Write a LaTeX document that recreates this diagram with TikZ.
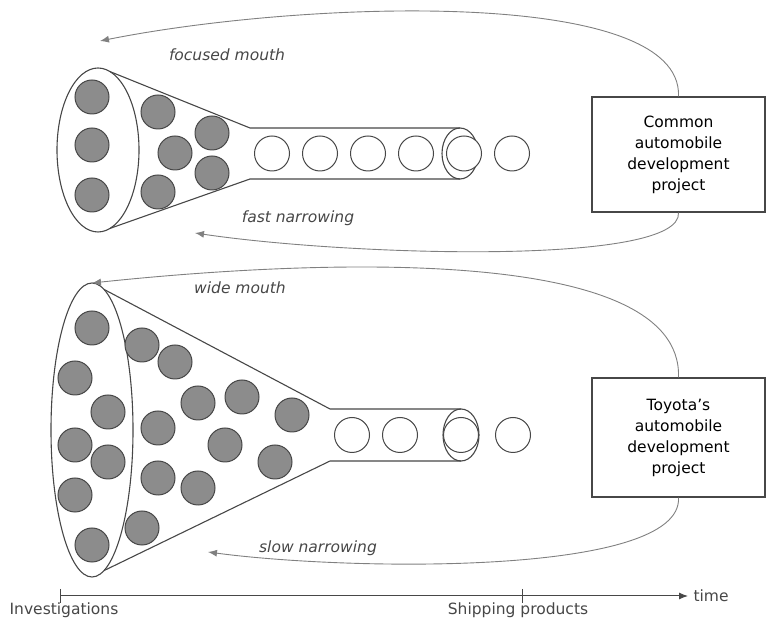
\documentclass[tikz,border=0pt]{standalone}
\usepackage{fontspec}
\setmainfont{DejaVu Sans}
\usepackage{tikz}
\usetikzlibrary{arrows.meta}
\usetikzlibrary{positioning}
\definecolor{linegray}{gray}{0.28}
\definecolor{dotgray}{gray}{0.55}
\definecolor{curvegray}{gray}{0.5}
\tikzset{
  funnel/.style={draw=linegray, line width=1.1pt},
  dot/.style={circle, draw=linegray, line width=1pt, fill=dotgray, minimum size=34pt, inner sep=0pt},
  part/.style={circle, draw=linegray, line width=1pt, fill=white, minimum size=35pt, inner sep=0pt},
  project/.style={draw=linegray, line width=1.1pt, align=center, minimum width=173pt, font=\fontsize{15.5}{21}\selectfont},
  loop/.style={draw=curvegray, line width=0.9pt, -{Latex[length=9pt,width=7pt]}},
  note/.style={font=\fontsize{15.5}{19}\selectfont\itshape, text=linegray},
  axislabel/.style={font=\fontsize{15.5}{19}\selectfont, text=linegray}
}
\begin{document}
\begin{tikzpicture}[x=1pt, y=1pt]
  \useasboundingbox (0,0) rectangle (768,626);

  % Common funnel
  \draw[funnel] (98,476) ellipse [x radius=41, y radius=82];
  \draw[funnel] (110,554.4) -- (250,498) -- (460,498);
  \draw[funnel] (110,397.6) -- (250,447) -- (460,447);
  \draw[funnel] (460,472.5) ellipse [x radius=18, y radius=25.5];

  % Common nodes
  \node[dot] (c1) at (92,529) {};
  \node[dot] (c2) at (92,481) {};
  \node[dot] (c3) at (92,431) {};
  \node[dot] (c4) at (158,514) {};
  \node[dot] (c5) at (175,473) {};
  \node[dot] (c6) at (158,434) {};
  \node[dot] (c7) at (212,493) {};
  \node[dot] (c8) at (212,453) {};
  \node[part] (cp1) at (272,472.5) {};
  \node[part, right=12pt of cp1] (cp2) {};
  \node[part, right=12pt of cp2] (cp3) {};
  \node[part, right=12pt of cp3] (cp4) {};
  \node[part, right=12pt of cp4] (cp5) {};
  \node[part, right=12pt of cp5] (cp6) {};
  \node[project, minimum height=115pt] (common) at (678.5,471.5) {Common\\automobile\\development\\project};

  % Common loops
  \coordinate (ctop) at (100,585);
  \coordinate (cbot) at (195,393);
  \draw[loop] (common.north) .. controls (683,640) and (300,625) .. (ctop);
  \draw[loop] (common.south) .. controls (683,360) and (350,370) .. (cbot);
  \node[note] at (227,571) {focused mouth};
  \node[note] at (298,408) {fast narrowing};

  % Toyota funnel
  \draw[funnel] (92,196) ellipse [x radius=41, y radius=147];
  \draw[funnel] (104,336.6) -- (330,217) -- (461,217);
  \draw[funnel] (104,55.4) -- (330,165) -- (461,165);
  \draw[funnel] (461,191) ellipse [x radius=18, y radius=26];

  % Toyota nodes
  \node[dot] (t1) at (92,298) {};
  \node[dot] (t2) at (75,248) {};
  \node[dot] (t3) at (108,214) {};
  \node[dot] (t4) at (75,181) {};
  \node[dot] (t5) at (108,164) {};
  \node[dot] (t6) at (75,131) {};
  \node[dot] (t7) at (92,81) {};
  \node[dot] (t8) at (142,281) {};
  \node[dot] (t9) at (175,264) {};
  \node[dot] (t10) at (198,223) {};
  \node[dot] (t11) at (242,229) {};
  \node[dot] (t12) at (292,211) {};
  \node[dot] (t13) at (158,198) {};
  \node[dot] (t14) at (225,181) {};
  \node[dot] (t15) at (275,164) {};
  \node[dot] (t16) at (158,148) {};
  \node[dot] (t17) at (198,138) {};
  \node[dot] (t18) at (142,98) {};
  \node[part] (tp1) at (352,191) {};
  \node[part] (tp2) at (400,191) {};
  \node[part] (tp3) at (461,191) {};
  \node[part] (tp4) at (513,191) {};
  \node[project, minimum height=119pt] (toyota) at (678.5,188.5) {Toyota's\\automobile\\development\\project};

  % Toyota loops
  \coordinate (ttop) at (92,343);
  \coordinate (tbot) at (208,74);
  \draw[loop] (toyota.north) .. controls (683,385) and (300,365) .. (ttop);
  \draw[loop] (toyota.south) .. controls (683,50) and (350,55) .. (tbot);
  \node[note] at (240,338) {wide mouth};
  \node[note] at (318,78) {slow narrowing};

  % Time axis
  \coordinate (start) at (60,30);
  \coordinate (ship) at (522,30);
  \coordinate (tend) at (688,30);
  \draw[draw=linegray, line width=1pt, -{Latex[length=9pt,width=7pt]}] (start) -- (tend);
  \draw[draw=linegray, line width=1pt] ([yshift=7pt]start) -- ([yshift=-7pt]start);
  \draw[draw=linegray, line width=1pt] ([yshift=7pt]ship) -- ([yshift=-7pt]ship);
  \node[axislabel, right=2pt of tend] (time) {time};
  \node[axislabel, below=3pt of start, xshift=4pt] (invest) {Investigations};
  \node[axislabel, below=3pt of ship, xshift=-4pt] (shipping) {Shipping products};
\end{tikzpicture}
\end{document}
